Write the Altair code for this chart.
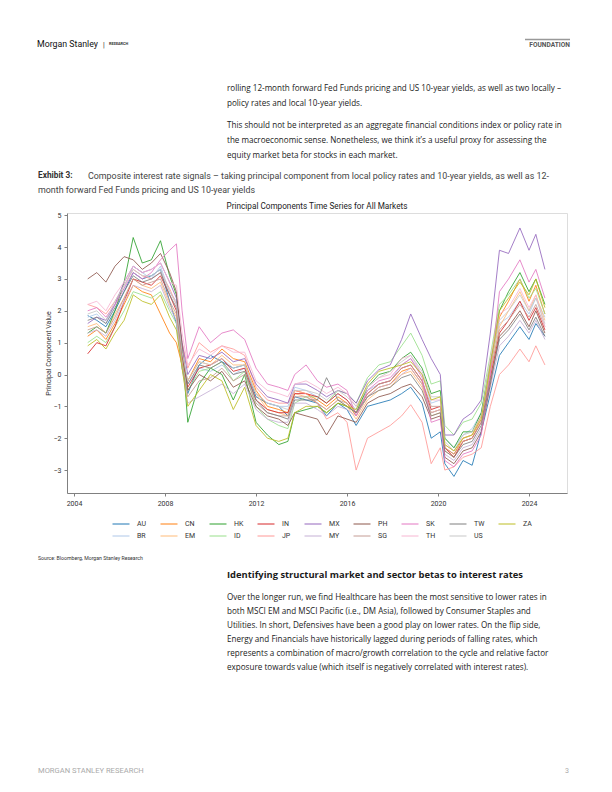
import altair as alt
import pandas as pd

# ---------------- data ----------------
years = [2004.6, 2005.0, 2005.4, 2005.8, 2006.2, 2006.6, 2007.0, 2007.4, 2007.8, 2008.2,
         2008.5, 2008.75, 2009.0, 2009.5, 2010.0, 2010.5, 2011.0, 2011.5, 2012.0, 2012.5,
         2013.0, 2013.4, 2013.7, 2014.2, 2014.7, 2015.1, 2015.6, 2016.0, 2016.4, 2016.9,
         2017.4, 2017.9, 2018.4, 2018.8, 2019.3, 2019.7, 2020.1, 2020.3, 2020.7, 2021.1,
         2021.5, 2021.9, 2022.3, 2022.7, 2023.1, 2023.6, 2024.0, 2024.3, 2024.7]

AU = [1.85, 1.7, 1.5, 2.0, 2.6, 3.2, 3.0, 3.1, 3.3, 2.3, 1.6, 0.2, -0.6, 0.3, 0.6, 0.4, 0.2, 0.3, -0.7, -0.9,
      -1.0, -1.3, -0.7, -0.8, -0.9, -1.3, -0.9, -1.1, -1.6, -1.0, -0.9, -0.8, -0.6, -0.4, -0.9, -2.0, -1.8, -2.8, -3.2, -2.7,
      -2.85, -1.8, -0.6, 0.6, 1.0, 1.5, 1.1, 1.6, 1.2]
BR = [1.8, 1.9, 1.6, 2.2, 2.7, 3.4, 3.2, 3.0, 3.4, 2.6, 2.3, 0.6, -0.3, 0.2, 0.1, 0.3, 0.0, 0.2, -0.6, -0.9,
      -1.0, -1.0, -0.4, -0.5, -0.7, -0.9, -0.6, -0.8, -1.1, -0.5, -0.3, -0.2, 0.3, 0.5, 0.0, -0.9, -0.8, -2.0, -2.3, -1.9,
      -1.7, -1.2, 0.3, 1.6, 1.8, 2.3, 1.9, 2.4, 1.8]
CN = [1.2, 1.4, 1.1, 1.6, 2.2, 2.8, 2.6, 2.5, 1.9, 1.3, 1.0, 0.3, -0.2, 0.5, 0.4, 0.8, 0.5, 0.4, -0.5, -1.0,
      -1.1, -1.2, -0.5, -0.6, -0.8, -1.0, -0.7, -0.9, -1.3, -0.7, -0.4, -0.3, 0.1, 0.2, -0.3, -1.2, -1.1, -2.3, -2.5, -2.0,
      -1.9, -1.3, 0.2, 1.8, 2.3, 3.0, 2.3, 2.8, 1.9]
EM = [1.5, 1.6, 1.3, 1.9, 2.4, 3.0, 2.8, 2.7, 2.9, 2.2, 1.8, 0.5, -0.2, 0.4, 0.3, 0.6, 0.3, 0.3, -0.6, -1.1,
      -1.2, -1.3, -0.6, -0.7, -0.9, -1.1, -0.8, -1.0, -1.4, -0.8, -0.5, -0.4, 0.0, 0.1, -0.4, -1.3, -1.2, -2.4, -2.6, -2.1,
      -2.0, -1.4, 0.0, 1.5, 2.0, 2.6, 2.0, 2.5, 1.7]
HK = [1.3, 1.5, 1.3, 2.0, 2.9, 4.3, 3.5, 3.6, 4.2, 3.1, 2.5, 0.8, -1.5, -0.3, 0.2, 0.0, -0.8, 0.0, -1.5, -1.9,
      -2.2, -2.1, -1.2, -1.1, -1.0, -1.2, -0.9, -1.0, -1.2, -0.4, 0.0, 0.1, 0.5, 0.7, 0.2, -0.6, -0.5, -2.0, -2.3, -1.8,
      -1.8, -1.2, 0.4, 2.0, 2.6, 3.2, 2.6, 3.0, 2.2]
ID = [1.0, 1.2, 1.0, 1.5, 2.0, 2.6, 2.5, 2.4, 2.6, 2.0, 1.6, 0.4, -0.5, 0.1, 0.2, 0.4, -0.2, 0.1, -1.0, -1.4,
      -1.6, -1.7, -0.9, -0.7, -0.7, -0.9, -0.5, -0.6, -0.9, -0.1, 0.3, 0.4, 0.9, 1.3, 0.6, -0.3, -0.2, -1.6, -1.9, -1.5,
      -1.4, -0.9, 0.6, 2.2, 2.5, 3.0, 2.4, 2.7, 1.9]
IN = [0.65, 1.0, 0.9, 1.5, 2.3, 3.0, 2.9, 2.8, 3.1, 2.5, 2.0, 0.6, -0.4, 0.2, 0.3, 0.5, 0.1, 0.2, -0.8, -1.1,
      -1.2, -1.2, -0.6, -0.6, -0.7, -0.9, -0.6, -0.8, -1.2, -0.6, -0.3, -0.2, 0.2, 0.3, -0.2, -1.1, -1.0, -2.3, -2.6, -2.1,
      -2.0, -1.5, -0.1, 1.3, 1.7, 2.3, 1.7, 2.1, 1.4]
JP = [2.2, 2.1, 1.9, 2.3, 2.8, 3.3, 3.1, 3.0, 3.2, 2.7, 2.2, 1.0, 0.2, 1.0, 0.7, 0.9, 0.8, 0.6, -0.4, -0.8,
      -0.9, -0.9, -0.5, -0.6, -0.9, -1.4, -1.2, -1.5, -3.0, -2.0, -1.8, -1.6, -1.3, -0.95, -1.5, -2.8, -2.3, -3.0, -2.9, -2.6,
      -2.5, -2.3, -1.0, 0.0, 0.3, 0.8, 0.4, 0.9, 0.3]
MX = [1.6, 1.8, 1.7, 2.2, 2.9, 3.4, 3.2, 3.3, 3.5, 2.9, 2.4, 1.0, 0.0, 0.6, 0.5, 0.7, 0.4, 0.5, -0.3, -0.7,
      -0.8, -0.9, -0.3, -0.3, -0.5, -0.7, -0.5, -0.6, -0.9, -0.2, 0.15, 0.3, 1.1, 1.9, 1.1, 0.5, 0.0, -1.9, -1.9, -1.4,
      -1.2, -0.8, 1.3, 3.9, 3.8, 4.6, 3.9, 4.4, 3.3]
MY = [1.3, 1.4, 1.2, 1.7, 2.3, 2.8, 2.7, 2.6, 2.8, 2.1, 1.7, 0.2, -0.9, -0.7, -0.5, -0.3, -0.6, -0.3, -1.1, -1.4,
      -1.5, -1.5, -0.9, -0.9, -1.1, -1.3, -1.0, -1.1, -1.3, -0.7, -0.4, -0.3, 0.0, 0.2, -0.3, -1.2, -1.1, -2.5, -2.7, -2.3,
      -2.2, -1.7, -0.4, 0.9, 1.2, 1.7, 1.3, 1.7, 1.1]
PH = [3.0, 3.2, 2.9, 3.4, 3.7, 3.6, 3.3, 3.5, 3.8, 3.2, 2.6, 0.9, -0.5, 0.0, -0.2, 0.1, -0.4, -0.2, -1.0, -1.3,
      -1.4, -1.6, -1.2, -1.3, -1.4, -1.9, -1.3, -1.4, -1.5, -0.9, -0.7, -0.6, -0.4, -0.3, -0.7, -1.4, -1.3, -2.6, -2.8, -2.4,
      -2.3, -1.8, -0.3, 1.2, 1.5, 2.0, 1.5, 2.0, 1.3]
SG = [1.4, 1.5, 1.3, 1.8, 2.4, 3.0, 2.8, 2.9, 3.0, 2.3, 1.9, 0.4, -0.7, -0.2, -0.1, 0.2, -0.2, 0.0, -0.9, -1.2,
      -1.3, -1.3, -0.7, -0.7, -0.9, -1.1, -0.8, -0.9, -1.2, -0.6, -0.3, -0.2, 0.2, 0.3, -0.2, -1.0, -1.0, -2.3, -2.5, -2.1,
      -2.0, -1.5, 0.1, 1.4, 1.7, 2.2, 1.8, 2.2, 1.5]
SK = [2.0, 2.1, 1.8, 2.2, 2.7, 3.2, 3.0, 3.2, 3.6, 3.9, 4.1, 2.0, 0.5, 1.5, 1.0, 1.3, 1.4, 1.1, 0.2, -0.3,
      -0.4, -0.5, 0.0, 0.3, -0.2, -0.4, -0.3, -0.5, -1.3, -0.5, -0.2, -0.1, 0.3, 0.5, -0.1, -1.5, -1.4, -2.7, -2.9, -2.5,
      -2.4, -1.9, 0.0, 2.6, 3.0, 3.6, 2.9, 3.3, 2.4]
TH = [2.2, 2.3, 2.0, 2.5, 2.9, 3.4, 3.2, 3.3, 3.5, 2.9, 2.8, 1.3, 0.3, 0.8, 0.6, 0.9, 0.7, 0.7, -0.2, -0.5,
      -0.6, -0.7, -0.3, -0.2, -0.4, -0.6, -0.4, -0.6, -1.0, -0.4, -0.1, 0.0, 0.5, 0.6, 0.0, -0.8, -0.8, -2.2, -2.4, -2.0,
      -1.9, -1.4, 0.5, 1.9, 2.1, 2.7, 2.1, 2.5, 1.5]
TW = [1.7, 1.8, 1.6, 2.1, 2.6, 3.1, 2.9, 3.0, 3.2, 2.5, 2.1, 0.7, -0.3, 0.3, 0.2, 0.4, 0.0, 0.1, -0.8, -1.2,
      -1.3, -1.4, -0.8, -0.8, -0.8, -0.1, -0.8, -1.0, -1.2, -0.7, -0.5, -0.4, -0.1, 0.0, -0.5, -1.3, -1.2, -2.4, -2.6, -2.2,
      -2.1, -1.6, -0.2, 1.1, 1.4, 1.9, 1.4, 1.8, 1.2]
US = [1.9, 2.0, 1.7, 2.3, 2.8, 3.3, 3.1, 3.1, 3.3, 2.6, 2.2, 0.7, -0.2, 0.4, 0.3, 0.5, 0.2, 0.3, -0.6, -0.9,
      -1.0, -1.1, -0.5, -0.5, -0.6, -0.8, -0.5, -0.7, -1.0, -0.4, -0.1, 0.1, 0.4, 0.6, 0.1, -0.7, -0.7, -2.1, -2.4, -1.9,
      -1.8, -1.3, 0.3, 1.7, 2.0, 2.5, 2.0, 2.4, 1.6]
ZA = [0.9, 1.1, 0.8, 1.3, 1.7, 2.5, 2.3, 2.2, 2.5, 1.8, 1.4, 0.2, -1.0, -0.5, 0.0, -0.2, -1.1, -0.4, -1.6, -2.0,
      -2.1, -2.0, -1.2, -1.0, -1.0, -1.2, -0.9, -1.0, -1.1, -0.3, 0.1, 0.2, 0.3, 0.4, 0.0, -0.8, -0.7, -2.2, -2.4, -2.0,
      -1.9, -1.4, 0.3, 2.0, 2.4, 2.9, 2.5, 3.0, 2.1]

series_names = ["AU", "BR", "CN", "EM", "HK", "ID", "IN", "JP", "MX", "MY",
                "PH", "SG", "SK", "TH", "TW", "US", "ZA"]
series_values = [AU, BR, CN, EM, HK, ID, IN, JP, MX, MY, PH, SG, SK, TH, TW, US, ZA]
series_colors = ["#1f77b4", "#aec7e8", "#ff7f0e", "#ffbb78", "#2ca02c", "#98df8a",
                 "#d62728", "#ff9896", "#9467bd", "#c5b0d5", "#8c564b", "#c49c94",
                 "#e377c2", "#f7b6d2", "#7f7f7f", "#c7c7c7", "#bcbd22"]

x_ticks = [2004, 2008, 2012, 2016, 2020, 2024]
y_ticks = [-3, -2, -1, 0, 1, 2, 3, 4, 5]

rows = []
for k, (name, vals) in enumerate(zip(series_names, series_values)):
    for yr, v in zip(years, vals):
        rows.append({"series": name, "year": yr, "value": v, "k": k})
df = pd.DataFrame(rows)

# legend order: two rows, column-major as in the reference
leg_order = series_names[0::2] + series_names[1::2]
color_map = dict(zip(series_names, series_colors))
leg_colors = [color_map[s] for s in leg_order]

# ---------------- layout ----------------
OX, OY = 67, 213          # page position of the plot origin
PW, PH_ = 500, 280        # plot area size

GRAY = "#808080"

lines = alt.Chart(df).mark_line(strokeWidth=0.85).encode(
    x=alt.X("year:Q",
            scale=alt.Scale(domain=[2003.69, 2025.67], nice=False, zero=False),
            axis=alt.Axis(values=x_ticks, format="d", title=None, grid=False,
                          labelFontSize=7, labelFont="Roboto", labelColor="#333",
                          tickSize=3, tickColor=GRAY, domainColor=GRAY, labelPadding=3)),
    y=alt.Y("value:Q",
            scale=alt.Scale(domain=[-3.72, 5.07], nice=False, zero=False),
            axis=alt.Axis(values=y_ticks, title="Principal Component Value", grid=False,
                          labelFontSize=7, labelFont="Roboto", labelColor="#333",
                          titleFontSize=7, titleFont="Roboto", titleColor="#333",
                          titleFontWeight="normal", titlePadding=2,
                          tickSize=3, tickColor=GRAY, domainColor=GRAY, labelPadding=3)),
    color=alt.Color("series:N",
                    scale=alt.Scale(domain=leg_order, range=leg_colors),
                    sort=leg_order,
                    legend=alt.Legend(orient="none", legendX=45, legendY=302,
                                      direction="horizontal", columns=9, title=None,
                                      symbolType="stroke", symbolSize=289,
                                      symbolStrokeWidth=1, labelFontSize=7,
                                      labelFont="Roboto", labelColor="#333",
                                      labelOffset=7, columnPadding=11, rowPadding=-2)),
    order=alt.Order("k:Q"),
    detail="series:N",
)


def txt(s, px, py, size, weight="normal", color="#1a1a1a", font="Open Sans", align="left"):
    return alt.Chart(pd.DataFrame({"t": [s]})).mark_text(
        align=align, baseline="middle", fontSize=size, fontWeight=weight,
        color=color, font=font
    ).encode(text="t:N", x=alt.value(px - OX), y=alt.value(py - OY))


def hrule(px1, px2, py, color, width):
    return alt.Chart(pd.DataFrame({"a": [0]})).mark_rule(color=color, strokeWidth=width).encode(
        x=alt.value(px1 - OX), x2=alt.value(px2 - OX), y=alt.value(py - OY))


body = 8.1
cap = 8.9
texts = [
    txt("Morgan Stanley", 37, 44, 8.8, font="Roboto", color="#111"),
    txt("|", 103, 44.5, 7, font="Roboto", color="#111"),
    txt("RESEARCH", 109, 44, 3.8, weight="bold", font="Roboto", color="#333"),
    hrule(525, 570, 39.5, "#999", 1.5),
    txt("FOUNDATION", 570, 44.5, 6.6, weight="bold", font="Roboto", color="#555", align="right"),
    txt("rolling 12-month forward Fed Funds pricing and US 10-year yields, as well as two locally \u2013", 227, 89, body),
    txt("policy rates and local 10-year yields.", 227, 104, body),
    txt("This should not be interpreted as an aggregate financial conditions index or policy rate in", 227, 126, body),
    txt("the macroeconomic sense. Nonetheless, we think it\u2019s a useful proxy for assessing the", 227, 141, body),
    txt("equity market beta for stocks in each market.", 227, 156, body),
    txt("Exhibit 3:", 38, 176, cap - 0.6, weight="bold", font="Roboto", color="#333"),
    txt("Composite interest rate signals \u2013 taking principal component from local policy rates and 10-year yields, as well as 12-",
        88, 176, cap, font="Roboto", color="#444"),
    txt("month forward Fed Funds pricing and US 10-year yields", 38, 190, cap, font="Roboto", color="#444"),
    txt("Principal Components Time Series for All Markets", OX + PW / 2, 207, 8.2, font="Roboto",
        color="#222", align="center"),
    txt("Source: Bloomberg, Morgan Stanley Research", 38, 558, 5.2, font="Roboto", color="#333"),
    txt("Identifying structural market and sector betas to interest rates", 227, 575, 9.4, weight="bold"),
    txt("Over the longer run, we find Healthcare has been the most sensitive to lower rates in", 227, 598, body),
    txt("both MSCI EM and MSCI Pacific (i.e., DM Asia), followed by Consumer Staples and", 227, 612, body),
    txt("Utilities. In short, Defensives have been a good play on lower rates. On the flip side,", 227, 626, body),
    txt("Energy and Financials have historically lagged during periods of falling rates, which", 227, 640, body),
    txt("represents a combination of macro/growth correlation to the cycle and relative factor", 227, 654, body),
    txt("exposure towards value (which itself is negatively correlated with interest rates).", 227, 668, body),
    txt("MORGAN STANLEY RESEARCH", 38, 771, 7.6, font="Roboto", color="#aaa"),
    txt("3", 569, 771, 7, font="Roboto", color="#aaa", align="right"),
]

chart = alt.layer(lines, *texts).properties(
    width=PW, height=PH_,
    autosize=alt.AutoSizeParams(type="none"),
    padding={"left": OX - 8, "top": OY - 8, "right": 604 - (OX + PW), "bottom": 780 - (OY + PH_)},
).configure_view(stroke=GRAY, strokeWidth=1).configure(background="white")

chart.save("out.html", embed_options={"renderer": "svg", "actions": False})
